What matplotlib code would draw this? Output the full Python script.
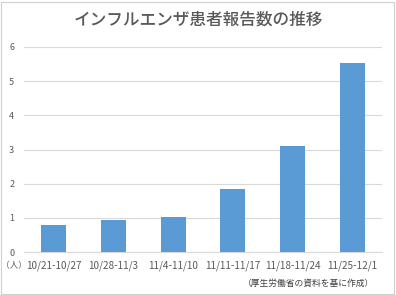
import matplotlib
matplotlib.use("Agg")
import matplotlib.pyplot as plt
from matplotlib.patches import Rectangle

plt.rcParams['font.family'] = ['Noto Sans CJK JP', 'DejaVu Sans']

categories = ["10/21-10/27", "10/28-11/3", "11/4-11/10", "11/11-11/17", "11/18-11/24", "11/25-12/1"]
values = [0.80, 0.95, 1.03, 1.84, 3.11, 5.52]
yticks = [0, 1, 2, 3, 4, 5, 6]
title = "インフルエンザ患者報告数の推移"
unit = "（人）"
source = "（厚生労働省の資料を基に作成）"

W, H = 396, 295
fig = plt.figure(figsize=(W/100, H/100), dpi=100)
ax = fig.add_axes([24/W, 1 - 252/H, (382-24)/W, (252-47)/H])

x = list(range(len(categories)))
ax.bar(x, values, width=0.42, color='#5b9bd5', zorder=3)
ax.set_xlim(-0.5, len(categories) - 0.5)
ax.set_ylim(0, 6)
ax.set_yticks(yticks)
ax.set_xticks(x)
ax.set_xticklabels(categories)
ax.grid(axis='y', color='#d9d9d9', linewidth=0.8, zorder=0)
for s in ['top', 'right', 'left']:
    ax.spines[s].set_visible(False)
ax.spines['bottom'].set_color('#d9d9d9')
ax.tick_params(axis='both', length=0, colors='#595959')
ax.tick_params(axis='y', pad=7, labelsize=6.5)
ax.tick_params(axis='x', pad=6, labelsize=7.2)

fig.text(W/2/W, 1 - 20/H, title, ha='center', va='center', fontsize=12,
         fontweight='medium', color='#595959')
fig.text(1/W, 1 - 266/H, unit, ha='left', va='center', fontsize=6.2, color='#595959')
fig.text(374/W, 1 - 283/H, source, ha='right', va='center', fontsize=6.3, color='#404040')

fig.patches.append(Rectangle((1/W, 1/H), (W-3)/W, (H-3)/H, transform=fig.transFigure,
                             fill=False, edgecolor='#d0d0d0', linewidth=0.8))

fig.savefig("out.png", dpi=100)
